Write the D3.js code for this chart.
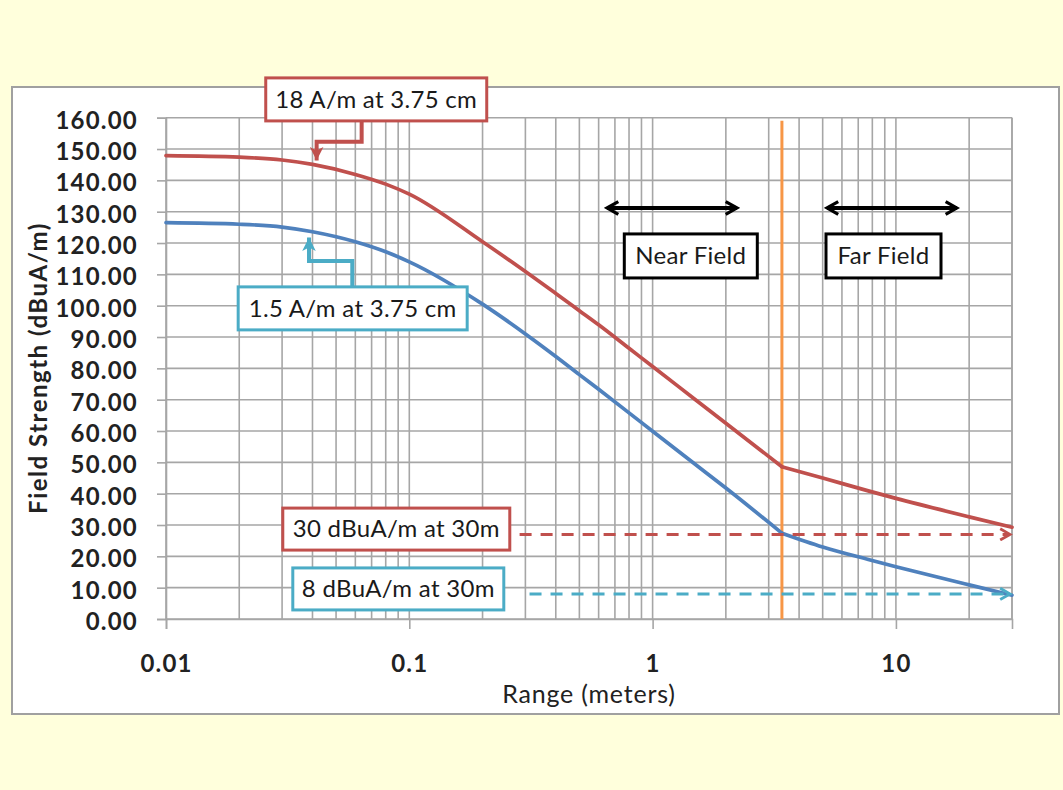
<!DOCTYPE html>
<html lang="en">
<head>
<meta charset="UTF-8">
<script src="https://cdn.jsdelivr.net/npm/d3@7"></script>
<title>Field Strength vs Range</title>
<style>
    body, html {
        margin: 0;
        padding: 0;
        background: #ffffdc;
    }
    svg { display: block; }
</style>
</head>
<body>
<div id="chart"></div>
<script>

// data
// range in meters
const range_m = [0.01, 0.02, 0.03, 0.04, 0.06, 0.08, 0.1, 0.2, 0.3, 0.4, 0.5, 0.6, 0.8, 1, 1.5, 2, 3.4, 5, 7.7, 10, 20, 30]
// 18 A/m at 3.75 cm (dBuA/m)
const field_18 = [147.9, 147.4, 146.5, 145.1, 141.9, 138.8, 135.6, 120.4, 110.9, 103.9, 98.4, 93.9, 86.4, 80.6, 70.0, 62.5, 48.6, 45.0, 40.9, 38.5, 32.6, 29.3]
// 1.5 A/m at 3.75 cm (dBuA/m)
const field_1_5 = [126.5, 126.0, 125.1, 123.6, 120.4, 117.2, 114.0, 100.5, 91.0, 83.8, 78.0, 73.3, 65.8, 59.9, 49.3, 41.8, 27.4, 23.0, 19.0, 16.7, 10.9, 7.6]

const y_ticks = [0, 10, 20, 30, 40, 50, 60, 70, 80, 90, 100, 110, 120, 130, 140, 150, 160]
const x_ticks = [0.01, 0.1, 1, 10]

// near / far field boundary (m)
const boundary_m = 3.4
// limit lines (dBuA/m), start of the dashed arrow (m)
const limit_18 = 27
const limit_1_5 = 8
const limit_18_from = 0.284
const limit_1_5_from = 0.312

// text boxes: left (m), top (dBuA/m)
const boxes = [
    { text: "18 A/m at 3.75 cm", x: 0.0257, y: 172.7, w: 221, h: 43, color: "#c0504d" },
    { text: "1.5 A/m at 3.75 cm", x: 0.0198, y: 106.0, w: 229, h: 43, color: "#4bacc6" },
    { text: "Near Field", x: 0.765, y: 122.9, w: 133, h: 44, color: "#000" },
    { text: "Far Field", x: 5.16, y: 122.9, w: 115, h: 44, color: "#000" },
    { text: "30 dBuA/m at 30m", x: 0.0302, y: 35.4, w: 227, h: 42, color: "#c0504d" },
    { text: "8 dBuA/m at 30m", x: 0.0332, y: 16.3, w: 211, h: 42, color: "#4bacc6" },
]
// bent callout arrows: points (m, dBuA/m)
const callouts = [
    { pts: [[0.0637, 158.9], [0.0637, 152.3], [0.0416, 152.3], [0.0416, 146.3]], color: "#c0504d" },
    { pts: [[0.0583, 106.0], [0.0583, 114.3], [0.0387, 114.3], [0.0387, 121.8]], color: "#4bacc6" },
]
// near / far double arrows (m)
const field_arrows = [[0.65, 2.22], [5.21, 17.8]]
const field_arrow_y = 131.2


const W = 1063, H = 790
const svg = d3.select("#chart").append("svg").attr("width", W).attr("height", H)

// white chart frame
svg.append("rect").attr("x", 12).attr("y", 87).attr("width", 1047).attr("height", 627)
    .attr("fill", "#fff").attr("stroke", "#a0a0a0").attr("stroke-width", 2)

const x = d3.scaleLog().domain([0.01, 30]).range([166, 1012])
const y = d3.scaleLinear().domain([0, 160]).range([619, 117.7])

const defs = svg.append("defs")
const chevron = (id, color, size) => {
    defs.append("marker").attr("id", id).attr("viewBox", "0 0 10 10").attr("refX", 8).attr("refY", 5)
        .attr("markerUnits", "userSpaceOnUse").attr("markerWidth", size).attr("markerHeight", size).attr("orient", "auto-start-reverse")
        .append("path").attr("d", "M1,1 L8,5 L1,9").attr("fill", "none").attr("stroke", color).attr("stroke-width", 2)
}
chevron("arr-black", "#000", 16)
chevron("arr-red", "#c0504d", 14)
chevron("arr-teal", "#4bacc6", 14)
const head = (id, color) => {
    defs.append("marker").attr("id", id).attr("viewBox", "0 0 10 10").attr("refX", 9).attr("refY", 5)
        .attr("markerUnits", "userSpaceOnUse").attr("markerWidth", 17).attr("markerHeight", 17).attr("orient", "auto")
        .append("path").attr("d", "M1,1 L9,5 L1,9 L3,5 Z").attr("fill", color)
}
head("head-red", "#c0504d")
head("head-teal", "#4bacc6")

// grid
const grid = svg.append("g").attr("stroke", "#a6a6a6").attr("stroke-width", 1.6)
grid.selectAll("line.h").data(y_ticks).enter().append("line").attr("class", "h")
    .attr("x1", x.range()[0]).attr("x2", x.range()[1]).attr("y1", d => y(d)).attr("y2", d => y(d))
grid.selectAll("line.v").data(x.ticks()).enter().append("line").attr("class", "v")
    .attr("x1", d => x(d)).attr("x2", d => x(d)).attr("y1", y(160)).attr("y2", y(0))
grid.append("line").attr("x1", x.range()[1]).attr("x2", x.range()[1]).attr("y1", y(160)).attr("y2", y(0))

// axes
const yAxis = svg.append("g").attr("transform", `translate(${x.range()[0]},0)`)
    .call(d3.axisLeft(y).tickValues(y_ticks).tickFormat(d3.format(".2f")).tickSize(9).tickPadding(19))
const xAxis = svg.append("g").attr("transform", `translate(0,${y(0)})`)
    .call(d3.axisBottom(x).tickValues(x_ticks).tickFormat(d3.format("~g")).tickSize(10).tickPadding(26))
;[yAxis, xAxis].forEach(g => {
    g.select(".domain").attr("stroke", "#a6a6a6").attr("stroke-width", 1.6)
    g.selectAll(".tick line").attr("stroke", "#a6a6a6").attr("stroke-width", 1.6)
    g.selectAll(".tick text").attr("font-family", "Lato").attr("font-weight", "bold")
        .attr("font-size", 24).attr("letter-spacing", 1.2).attr("fill", "#222")
})
yAxis.selectAll(".tick text").attr("dy", "0.44em")

svg.append("text").attr("x", 589).attr("y", 703).attr("text-anchor", "middle")
    .attr("font-family", "Lato").attr("font-size", 25).attr("letter-spacing", 0.8).attr("fill", "#222").text("Range (meters)")
svg.append("text").attr("transform", "translate(47,368) rotate(-90)").attr("text-anchor", "middle")
    .attr("font-family", "Lato").attr("font-weight", "bold").attr("font-size", 24).attr("letter-spacing", 1.5).attr("fill", "#222")
    .text("Field Strength (dBuA/m)")

// boundary line
svg.append("line").attr("x1", x(boundary_m)).attr("x2", x(boundary_m)).attr("y1", y(159)).attr("y2", y(0))
    .attr("stroke", "#f79646").attr("stroke-width", 3)

// curves: smooth near-field part, sharp knee at the boundary
const line = d3.line().x(d => x(d[0])).y(d => y(d[1])).curve(d3.curveMonotoneX)
const knee = range_m.indexOf(boundary_m)
const series = [[field_18, "#c0504d"], [field_1_5, "#4f81bd"]]
series.forEach(([vals, color]) => {
    const pts = d3.zip(range_m, vals)
    ;[pts.slice(0, knee + 1), pts.slice(knee)].forEach(part => {
        svg.append("path").datum(part).attr("d", line)
            .attr("fill", "none").attr("stroke", color).attr("stroke-width", 3.7).attr("stroke-linecap", "round")
    })
})

// dashed limit arrows
const limits = [[limit_18_from, limit_18, "#c0504d", "arr-red"], [limit_1_5_from, limit_1_5, "#4bacc6", "arr-teal"]]
svg.selectAll("line.limit").data(limits).enter().append("line").attr("class", "limit")
    .attr("x1", d => x(d[0])).attr("x2", x(30) - 2).attr("y1", d => y(d[1])).attr("y2", d => y(d[1]))
    .attr("stroke", d => d[2]).attr("stroke-width", 3).attr("stroke-dasharray", "12,9")
    .attr("marker-end", d => `url(#${d[3]})`)

// near / far arrows
svg.selectAll("line.fa").data(field_arrows).enter().append("line").attr("class", "fa")
    .attr("x1", d => x(d[0])).attr("x2", d => x(d[1])).attr("y1", y(field_arrow_y)).attr("y2", y(field_arrow_y))
    .attr("stroke", "#000").attr("stroke-width", 4)
    .attr("marker-start", "url(#arr-black)").attr("marker-end", "url(#arr-black)")

// callout arrows
svg.selectAll("path.callout").data(callouts).enter().append("path").attr("class", "callout")
    .attr("d", d => d3.line()(d.pts.map(p => [x(p[0]), y(p[1])])))
    .attr("fill", "none").attr("stroke", d => d.color).attr("stroke-width", 4)
    .attr("marker-end", d => d.color === "#c0504d" ? "url(#head-red)" : "url(#head-teal)")

// text boxes
const bx = svg.selectAll("g.box").data(boxes).enter().append("g").attr("class", "box")
    .attr("transform", d => `translate(${x(d.x)},${y(d.y)})`)
bx.append("rect").attr("width", d => d.w).attr("height", d => d.h)
    .attr("fill", "#fff").attr("stroke", d => d.color).attr("stroke-width", 3)
bx.append("text").attr("x", d => d.w / 2).attr("y", d => d.h / 2).attr("dy", "0.35em")
    .attr("text-anchor", "middle").attr("font-family", "Lato").attr("font-size", 24).attr("letter-spacing", 0.3).attr("fill", "#1a1a1a")
    .text(d => d.text)

</script>
</body>
</html>
